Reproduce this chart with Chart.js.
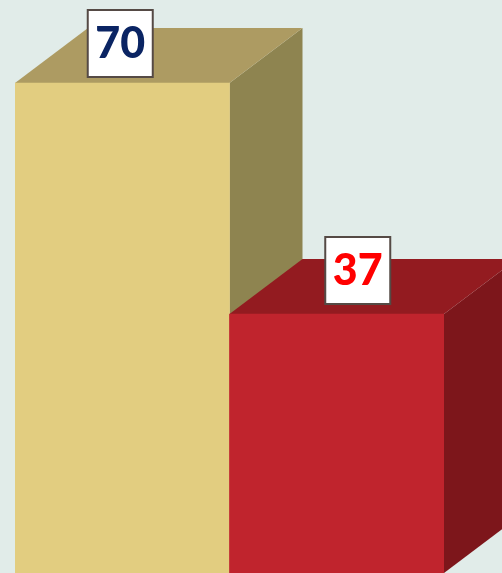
<!DOCTYPE html>
<html>
<head>
<meta charset="utf-8">
<script src="https://cdn.jsdelivr.net/npm/chart.js@4"></script>
<style>
  html, body { margin: 0; padding: 0; background: #e1ece9; }
  #wrap { width: 502px; height: 573px; }
</style>
</head>
<body>
<div id="wrap"><canvas id="chart" width="502" height="573"></canvas></div>
<script>
// data
const categories = ["A", "B"];
const values = [70, 37];

// styles
const frontColors = ["#e2cd80", "#c0242d"];
const topColors = ["#ad9b62", "#931b20"];
const sideColors = ["#8e8450", "#7d161b"];
const labelColors = ["#0a2463", "#ff0000"];
const labelShiftX = [-2, 21];
const labelGap = [6, 10];
const DEPTH_X = 73, DEPTH_Y = 55;

const cube3d = {
  id: "cube3d",
  beforeDatasetsDraw(chart) {
    const ctx = chart.ctx;
    const base = chart.scales.y.getPixelForValue(0);
    chart.getDatasetMeta(0).data.forEach((bar, i) => {
      const l = bar.x - bar.width / 2, r = bar.x + bar.width / 2, t = bar.y;
      // side face
      ctx.fillStyle = sideColors[i];
      ctx.beginPath();
      ctx.moveTo(r, t);
      ctx.lineTo(r + DEPTH_X, t - DEPTH_Y);
      ctx.lineTo(r + DEPTH_X, base - DEPTH_Y);
      ctx.lineTo(r, base);
      ctx.closePath();
      ctx.fill();
      // top face
      ctx.fillStyle = topColors[i];
      ctx.beginPath();
      ctx.moveTo(l, t);
      ctx.lineTo(r, t);
      ctx.lineTo(r + DEPTH_X, t - DEPTH_Y);
      ctx.lineTo(l + DEPTH_X, t - DEPTH_Y);
      ctx.closePath();
      ctx.fill();
    });
  },
  afterDatasetsDraw(chart) {
    const ctx = chart.ctx;
    chart.getDatasetMeta(0).data.forEach((bar, i) => {
      const w = 65, h = 67;
      const cx = bar.x + labelShiftX[i];
      const y0 = bar.y - labelGap[i] - h;
      ctx.fillStyle = "#ffffff";
      ctx.fillRect(cx - w / 2, y0, w, h);
      ctx.strokeStyle = "#554a45";
      ctx.lineWidth = 2;
      ctx.strokeRect(cx - w / 2, y0, w, h);
      ctx.fillStyle = labelColors[i];
      ctx.font = "900 43px Lato, 'Open Sans', sans-serif";
      ctx.textAlign = "center";
      ctx.textBaseline = "middle";
      ctx.fillText(String(values[i]), cx, y0 + h / 2 + 1);
    });
  }
};

new Chart(document.getElementById("chart"), {
  type: "bar",
  data: {
    labels: categories,
    datasets: [{
      data: values,
      backgroundColor: frontColors,
      borderWidth: 0,
      barPercentage: 1,
      categoryPercentage: 1
    }]
  },
  options: {
    responsive: false,
    animation: false,
    layout: { padding: { left: 15, right: 58, top: 0, bottom: 0 } },
    plugins: { legend: { display: false }, tooltip: { enabled: false } },
    scales: {
      x: { display: false },
      y: { display: false, min: 0, max: 573 / 7 }
    }
  },
  plugins: [cube3d]
});
</script>
</body>
</html>
